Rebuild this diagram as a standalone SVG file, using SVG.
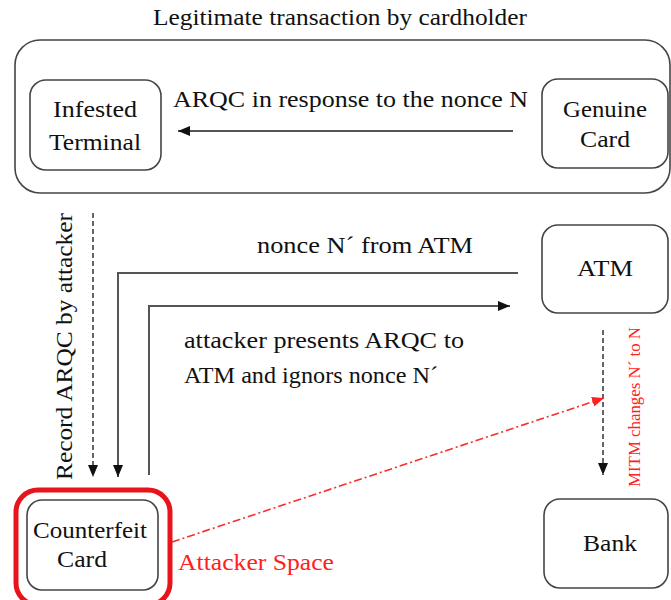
<svg xmlns="http://www.w3.org/2000/svg" width="671" height="600" viewBox="0 0 671 600" font-family="'Liberation Serif', 'DejaVu Serif', serif">
<style>
text{font-family:'Liberation Serif','DejaVu Serif',serif;font-size:24px;fill:#111}
.box{fill:#fff;stroke:#444;stroke-width:1.6}
.ln{fill:none;stroke:#555;stroke-width:2}
.dash{fill:none;stroke:#333;stroke-width:1.5;stroke-dasharray:5,3}
.red{fill:none;stroke:#ff2a2a;stroke-width:1.6;stroke-dasharray:8,3,2,3}
.mid{text-anchor:middle}
.rt{fill:#ff2020}
</style>
<defs>
<marker id="ah" markerUnits="userSpaceOnUse" markerWidth="12" markerHeight="10" refX="12" refY="5" orient="auto">
<path d="M0,0 L12,5 L0,10 z" fill="#111"/>
</marker>
<marker id="ahr" markerUnits="userSpaceOnUse" markerWidth="12" markerHeight="10" refX="12" refY="5" orient="auto">
<path d="M0,0 L12,5 L0,10 z" fill="#ff2020"/>
</marker>
</defs>
<rect width="671" height="600" fill="#fff"/>
<text x="340" y="25" class="mid" textLength="374" lengthAdjust="spacingAndGlyphs">Legitimate transaction by cardholder</text>
<g id="legit-frame"><rect class="box" x="15" y="40" width="655" height="153" rx="25"/></g>
<g id="infested-terminal">
<rect class="box" x="30" y="80" width="131" height="90" rx="16"/>
<text x="95" y="117" class="mid" textLength="84" lengthAdjust="spacingAndGlyphs">Infested</text>
<text x="95" y="150" class="mid" textLength="92" lengthAdjust="spacingAndGlyphs">Terminal</text>
</g>
<g id="genuine-card">
<rect class="box" x="542" y="79" width="126" height="89" rx="16"/>
<text x="605" y="117" class="mid" textLength="84" lengthAdjust="spacingAndGlyphs">Genuine</text>
<text x="605" y="147" class="mid" textLength="50" lengthAdjust="spacingAndGlyphs">Card</text>
</g>
<g id="atm">
<rect class="box" x="542" y="225" width="126" height="88" rx="16"/>
<text x="605" y="276" class="mid" textLength="56" lengthAdjust="spacingAndGlyphs">ATM</text>
</g>
<g id="bank">
<rect class="box" x="544" y="499" width="124" height="89" rx="16"/>
<text x="610" y="551" class="mid" textLength="54" lengthAdjust="spacingAndGlyphs">Bank</text>
</g>
<g id="counterfeit-card">
<rect x="16" y="490" width="154" height="115" rx="22" fill="none" stroke="#e8141c" stroke-width="5"/>
<rect class="box" x="27" y="500" width="131" height="90" rx="15"/>
<text x="90" y="538" class="mid" textLength="114" lengthAdjust="spacingAndGlyphs">Counterfeit</text>
<text x="82" y="567" class="mid" textLength="50" lengthAdjust="spacingAndGlyphs">Card</text>
<text x="178" y="570" class="rt" textLength="156" lengthAdjust="spacingAndGlyphs">Attacker Space</text>
</g>
<g id="connectors">
<line class="ln" x1="513" y1="131" x2="178" y2="131" marker-end="url(#ah)"/>
<text x="173" y="107" textLength="355" lengthAdjust="spacingAndGlyphs">ARQC in response to the nonce N</text>
<line class="dash" x1="93" y1="213" x2="93" y2="477" marker-end="url(#ah)"/>
<text transform="translate(72,480) rotate(-90)" textLength="267" lengthAdjust="spacingAndGlyphs">Record ARQC by attacker</text>
<polyline class="ln" points="518,273 118,273 118,477" marker-end="url(#ah)"/>
<text x="257" y="253" textLength="216" lengthAdjust="spacingAndGlyphs">nonce N´ from ATM</text>
<polyline class="ln" points="149,475 149,306 510,306" marker-end="url(#ah)"/>
<text x="184" y="348" textLength="280" lengthAdjust="spacingAndGlyphs">attacker presents ARQC to</text>
<text x="184" y="383" textLength="254" lengthAdjust="spacingAndGlyphs">ATM and ignors nonce N´</text>
<line class="dash" x1="603" y1="330" x2="603" y2="475" marker-end="url(#ah)"/>
<line class="red" x1="172" y1="542" x2="604" y2="398" marker-end="url(#ahr)"/>
<text transform="translate(640,487) rotate(-90)" class="rt" style="font-size:16px" textLength="160" lengthAdjust="spacingAndGlyphs">MITM changes N´ to N</text>
</g>
</svg>
